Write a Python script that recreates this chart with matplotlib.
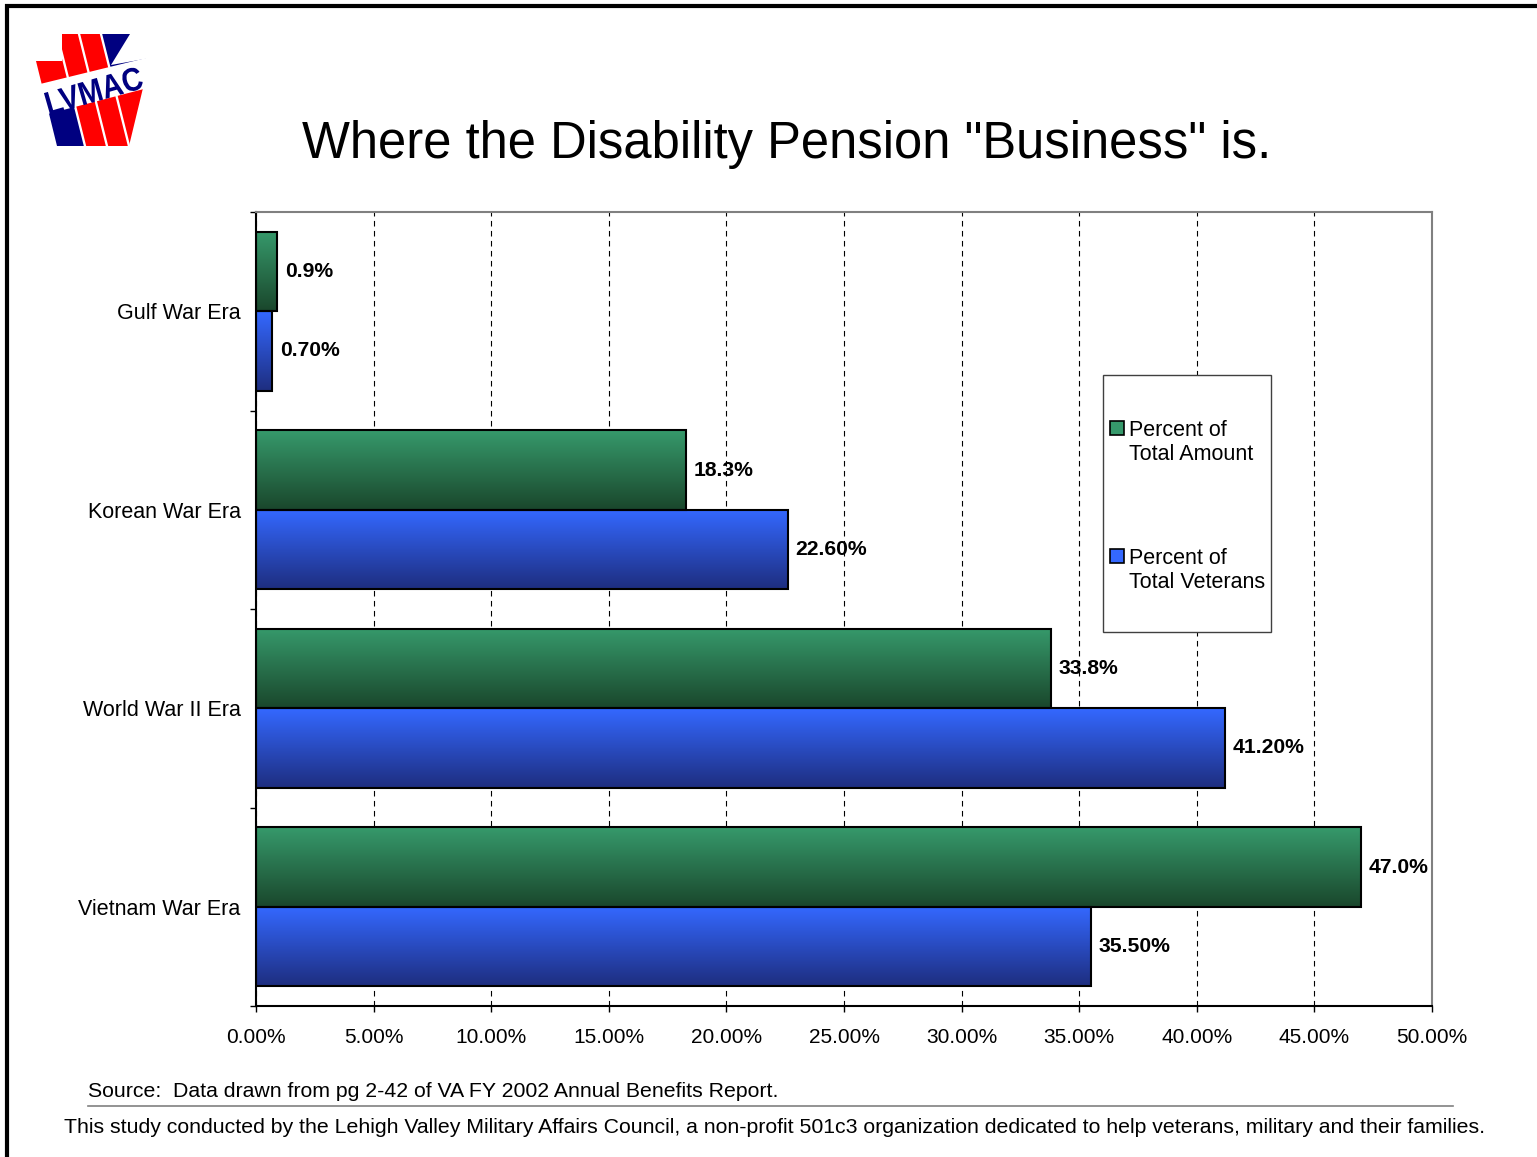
import numpy as np
import matplotlib.pyplot as plt
from matplotlib.patches import Polygon, Rectangle, PathPatch
from matplotlib.colors import LinearSegmentedColormap
from matplotlib.textpath import TextPath
from matplotlib.font_manager import FontProperties
from matplotlib.transforms import Affine2D

plt.rcParams['font.family'] = ['Liberation Sans', 'DejaVu Sans']

eras = ['Gulf War Era', 'Korean War Era', 'World War II Era', 'Vietnam War Era']
pct_amount = [0.9, 18.3, 33.8, 47.0]
pct_veterans = [0.70, 22.60, 41.20, 35.50]
series_names = ['Percent of\nTotal Amount', 'Percent of\nTotal Veterans']
x_ticks = np.arange(0, 51, 5)

W, H = 1537, 1157
fig = plt.figure(figsize=(W / 100, H / 100), dpi=100)
ax = fig.add_axes([256 / W, 1 - 1006 / H, (1432 - 256) / W, (1006 - 212) / H])

green = ('#36996b', '#1a472c')
blue = ('#3468ff', '#1e2e80')

y = np.arange(len(eras))
bh = 0.4
bars_amt = ax.barh(y - bh / 2, pct_amount, height=bh, color='none',
                   edgecolor='black', linewidth=1.5, zorder=3)
bars_vet = ax.barh(y + bh / 2, pct_veterans, height=bh, color='none',
                   edgecolor='black', linewidth=1.5, zorder=3)


def shade(bars, top, bottom):
    # vertical gradient fill, clipped to each bar
    cmap = LinearSegmentedColormap.from_list('fill', [top, bottom])
    grad = np.linspace(0, 1, 64).reshape(-1, 1)
    for b in bars:
        x0, y0 = b.get_x(), b.get_y()
        im = ax.imshow(grad, cmap=cmap, aspect='auto', origin='upper',
                       extent=(x0, x0 + b.get_width(), y0 + b.get_height(), y0),
                       zorder=2, interpolation='bilinear')
        im.set_clip_path(b)


shade(bars_amt, *green)
shade(bars_vet, *blue)

for yc, v in zip(y - bh / 2, pct_amount):
    ax.annotate(f'{v:.1f}%', xy=(v, yc), xytext=(5.5, 0), textcoords='offset points',
                ha='left', va='center', fontsize=15.2, fontweight='bold', zorder=4)
for yc, v in zip(y + bh / 2, pct_veterans):
    ax.annotate(f'{v:.2f}%', xy=(v, yc), xytext=(5.5, 0), textcoords='offset points',
                ha='left', va='center', fontsize=15.2, fontweight='bold', zorder=4)

ax.set_xlim(0, 50)
ax.set_ylim(len(eras) - 0.5, -0.5)
ax.set_xticks(x_ticks)
ax.set_xticklabels([f'{t:.2f}%' for t in x_ticks])
ax.set_yticks(y)
ax.set_yticklabels(eras)
ax.set_yticks(np.arange(-0.5, len(eras), 1), minor=True)
ax.tick_params(axis='y', which='major', length=0, pad=11, labelsize=15.5)
ax.tick_params(axis='y', which='minor', length=4.3, width=1, direction='out')
ax.tick_params(axis='x', length=4.3, width=1, direction='out', pad=11.5, labelsize=15)
ax.xaxis.grid(True, linestyle=(0, (5, 4)), color='black', linewidth=0.8)
ax.set_axisbelow(True)
for side in ('left', 'bottom'):
    ax.spines[side].set_color('black')
    ax.spines[side].set_linewidth(1.5)
for side in ('top', 'right'):
    ax.spines[side].set_color('#808080')
    ax.spines[side].set_linewidth(1.5)

# page layer in pixel coordinates: frame, logo, title, legend, footer
pg = fig.add_axes([0, 0, 1, 1], facecolor='none')
pg.set_xlim(0, W)
pg.set_ylim(H, 0)
pg.axis('off')

pg.plot([5, W], [6, 6], color='black', lw=3, solid_capstyle='butt')
pg.plot([7, 7], [4, H], color='black', lw=3, solid_capstyle='butt')

# logo: striped keystone crossed by a slanted name band
RED, NAVY = '#ff0000', '#000080'
k = 0.25
keystone = Polygon([(62, 34), (130, 34), (111, 65), (150, 58), (143, 88),
                    (129, 146), (57, 146), (36, 61), (62, 61)], closed=True,
                   fc='none', ec='none')
pg.add_patch(keystone)


def edge_x(xb, yy):
    return xb - (146 - yy) * k


def cross_y(xb, c, s):
    return (c - s * (xb - 146 * k - 36)) / (1 + s * k)


def stripe(xa, xb, upper, lower, c=100, s=0.26):
    ya, yb = cross_y(xa, c, s), cross_y(xb, c, s)
    lo = [(edge_x(xa, 150), 150), (edge_x(xb, 150), 150),
          (edge_x(xb, yb), yb), (edge_x(xa, ya), ya)]
    hi = [(edge_x(xa, 20), 20), (edge_x(xb, 20), 20),
          (edge_x(xb, yb), yb), (edge_x(xa, ya), ya)]
    for pts, col in ((lo, lower), (hi, upper)):
        p = Polygon(pts, closed=True, fc=col, ec='none')
        pg.add_patch(p)
        p.set_clip_path(keystone)


stripe(20, 83.8, RED, NAVY)
stripe(86.2, 105.8, RED, RED)
stripe(108.2, 127.8, RED, RED)
stripe(130.2, 175, NAVY, RED)

band = Polygon([(28, 85 + 8 * 0.245), (152, 85 - 116 * 0.245),
                (152, 116 - 112 * 0.26), (28, 116 + 12 * 0.26)],
               closed=True, fc='white', ec='none')
pg.add_patch(band)

# name lettering, squeezed to fit the band
tp = TextPath((0, 0), 'LVMAC', size=1,
              prop=FontProperties(family='Liberation Sans', weight='bold'))
ext = tp.get_extents()
sx, sy = 98 / ext.width, 23.5 / 0.716
place = (Affine2D().translate(-ext.x0 - ext.width / 2, -0.358)
         .scale(sx, -sy).rotate_deg(-16).translate(94, 90))
pg.add_patch(PathPatch(place.transform_path(tp), fc=NAVY, ec='none'))

pg.text(787, 158, 'Where the Disability Pension "Business" is.', fontsize=36.5,
        ha='center', va='baseline')

# legend box
pg.add_patch(Rectangle((1103, 375), 168, 257, fc='white', ec='#404040', lw=1, zorder=5))
for ty, col, name in zip([421, 549], [green, blue], series_names):
    pg.add_patch(Rectangle((1110, ty), 14, 14, fc=col[0], ec='black', lw=1.2, zorder=6))
    pg.text(1129, ty - 1, name, fontsize=15.5, ha='left', va='top', linespacing=1.2, zorder=6)

pg.text(88, 1097, 'Source:  Data drawn from pg 2-42 of VA FY 2002 Annual Benefits Report.',
        fontsize=15.3, ha='left', va='baseline')
pg.plot([88, 1453], [1106, 1106], color='#808080', lw=1.2)
pg.text(775, 1133, 'This study conducted by the Lehigh Valley Military Affairs Council, '
        'a non-profit 501c3 organization dedicated to help veterans, military and their families.',
        fontsize=15.3, ha='center', va='baseline')

fig.savefig('out.png', dpi=100)
